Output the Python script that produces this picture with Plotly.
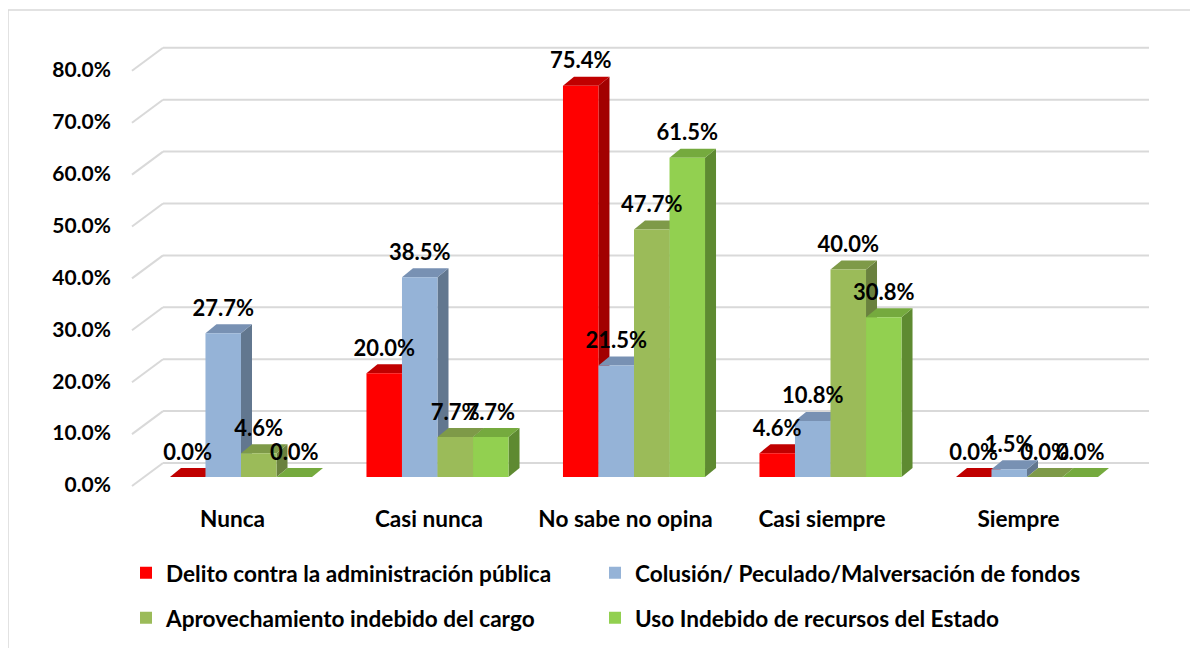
import plotly.graph_objects as go

# ---------------- data ----------------
categories = ["Nunca", "Casi nunca", "No sabe no opina", "Casi siempre", "Siempre"]
series_names = [
    "Delito contra la administración pública",
    "Colusión/ Peculado/Malversación de fondos",
    "Aprovechamiento indebido del cargo",
    "Uso Indebido de recursos del Estado",
]
delito = [0.0, 20.0, 75.4, 4.6, 0.0]
colusion = [27.7, 38.5, 21.5, 10.8, 1.5]
aprovechamiento = [4.6, 7.7, 47.7, 40.0, 0.0]
uso_indebido = [0.0, 7.7, 61.5, 30.8, 0.0]
y_ticks = [0, 10, 20, 30, 40, 50, 60, 70, 80]

series_values = [delito, colusion, aprovechamiento, uso_indebido]
front_colors = ["#FF0000", "#95B3D7", "#9BBB59", "#92D050"]
top_colors = ["#C00000", "#7891B3", "#7E9A48", "#75AA3E"]
side_colors = ["#A20000", "#62778F", "#6A813E", "#5E8A31"]

# ---------------- geometry (pixel helpers, screenshot pixels) ----------------
OFF = 8                 # page body margin
W, H = 1198, 648
PL, PR, PT, PB = 120, 1160, 30, 500   # plot area in screenshot pixels
ML, MR, MT, MB = PL - OFF, W - (PR - OFF), PT - OFF, H - (PB - OFF)
PX_CAT = 196.5          # pixels per category
PX_PCT = 5.19           # pixels per percent
CAT0_PX = 241           # pixel of category 0 centre
ZERO_PX = 477           # pixel of bar baseline
x_range = [(PL - CAT0_PX) / PX_CAT, (PR - CAT0_PX) / PX_CAT]
y_range = [(ZERO_PX - PB) / PX_PCT, (ZERO_PX - PT) / PX_PCT]

GROUP_W = 0.723
BW = GROUP_W / 4
FACE_DX = 11 / PX_CAT
FACE_DY = 9 / PX_PCT
WALL_DY = 14 / PX_PCT
WALL_X0 = (163 - CAT0_PX) / PX_CAT
WALL_X1 = (1149 - CAT0_PX) / PX_CAT
DIAG_X0 = (132 - CAT0_PX) / PX_CAT
DIAG_DY = 23 / PX_PCT
LABEL_SHIFT = 8 / PX_PCT
TEXT_DY = 23 / PX_PCT

FONT = "Lato"
FS = 22
FS_TXT = 22.6
FS_Y = 21


def px_to_paper_x(px):
    return (px - PL) / (PR - PL)


def px_to_paper_y(py):
    return (PB - py) / (PB - PT)


fig = go.Figure()
shapes = []

# outer chart border
shapes.append(dict(type="rect", xref="paper", yref="paper",
                   x0=px_to_paper_x(8), x1=px_to_paper_x(1230),
                   y0=px_to_paper_y(680), y1=px_to_paper_y(10),
                   line=dict(color="#D9D9D9", width=1.5), layer="below"))

# back wall gridlines + side diagonals
for g in y_ticks:
    shapes.append(dict(type="line", xref="x", yref="y", x0=WALL_X0, x1=WALL_X1,
                       y0=g + WALL_DY, y1=g + WALL_DY,
                       line=dict(color="#D9D9D9", width=2), layer="below"))
    shapes.append(dict(type="line", xref="x", yref="y", x0=DIAG_X0, x1=WALL_X0,
                       y0=g + WALL_DY - DIAG_DY, y1=g + WALL_DY,
                       line=dict(color="#D9D9D9", width=2), layer="below"))

# 3D side and top faces
for ci in range(len(categories)):
    for si in range(4):
        v = series_values[si][ci]
        x0 = ci + (si - 2) * BW
        x1 = x0 + BW
        side = (f"M {x1},0 L {x1},{v} L {x1 + FACE_DX},{v + FACE_DY} "
                f"L {x1 + FACE_DX},{FACE_DY} Z")
        top = (f"M {x0},{v} L {x1},{v} L {x1 + FACE_DX},{v + FACE_DY} "
               f"L {x0 + FACE_DX},{v + FACE_DY} Z")
        shapes.append(dict(type="path", xref="x", yref="y", path=side,
                           fillcolor=side_colors[si], line=dict(width=0), layer="below"))
        shapes.append(dict(type="path", xref="x", yref="y", path=top,
                           fillcolor=top_colors[si], line=dict(width=0), layer="below"))

# front faces (bars), each in its own legend box (2 x 2 layout)
legend_ids = ["legend", "legend2", "legend3", "legend4"]
xs = list(range(len(categories)))
for si in range(4):
    fig.add_trace(go.Bar(
        x=xs, y=series_values[si], name=series_names[si],
        marker=dict(color=front_colors[si], line=dict(width=0)),
        legend=legend_ids[si],
    ))

# data labels
for si in range(4):
    fig.add_trace(go.Scatter(
        x=[c + (si - 1.5) * BW for c in xs],
        y=[v + TEXT_DY for v in series_values[si]],
        mode="text",
        text=[f"{v:.1f}%" for v in series_values[si]],
        textfont=dict(family=FONT, size=FS, color="black", weight="bold"),
        showlegend=False, hoverinfo="skip",
    ))

# invisible trace to activate the tick-label axis
fig.add_trace(go.Scatter(x=[0], y=[0], yaxis="y2", mode="markers",
                         marker=dict(opacity=0), showlegend=False, hoverinfo="skip"))

legend_common = dict(orientation="h", xanchor="left", yanchor="middle",
                     itemwidth=30,
                     font=dict(family=FONT, size=FS_TXT, weight="bold"),
                     bgcolor="rgba(0,0,0,0)")
col_x = [126, 595]
row_y = [573, 618]

fig.update_layout(
    width=W, height=H,
    margin=dict(l=ML, r=MR, t=MT, b=MB),
    paper_bgcolor="white", plot_bgcolor="rgba(0,0,0,0)",
    barmode="group", bargap=1 - GROUP_W, bargroupgap=0,
    font=dict(family=FONT, size=FS, color="black", weight="bold"),
    shapes=shapes,
    xaxis=dict(range=x_range, showgrid=False, zeroline=False, showline=False,
               tickmode="array", tickvals=[c - 8.5 / PX_CAT for c in xs],
               ticktext=categories, ticks="", ticklabelstandoff=3,
               tickfont=dict(family=FONT, size=FS_TXT, weight="bold")),
    yaxis=dict(range=y_range, showgrid=False, zeroline=False, showline=False,
               showticklabels=False, ticks=""),
    yaxis2=dict(range=[y_range[0] + LABEL_SHIFT, y_range[1] + LABEL_SHIFT],
                overlaying="y", side="left", showgrid=False, zeroline=False,
                showline=False, tickmode="array", tickvals=y_ticks,
                ticktext=[f"{t:.1f}%" for t in y_ticks], ticks="",
                ticklabelstandoff=8,
                tickfont=dict(family=FONT, size=FS_Y, weight="bold")),
    legend=dict(x=px_to_paper_x(col_x[0]), y=px_to_paper_y(row_y[0]), **legend_common),
    legend2=dict(x=px_to_paper_x(col_x[1]), y=px_to_paper_y(row_y[0]), **legend_common),
    legend3=dict(x=px_to_paper_x(col_x[0]), y=px_to_paper_y(row_y[1]), **legend_common),
    legend4=dict(x=px_to_paper_x(col_x[1]), y=px_to_paper_y(row_y[1]), **legend_common),
    hovermode=False,
)

fig.write_html("out.html")
